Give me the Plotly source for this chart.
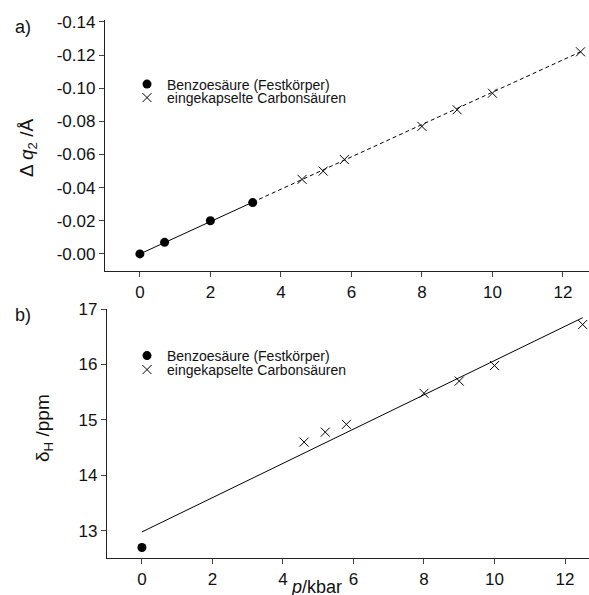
import numpy as np
import plotly.graph_objects as go

# ---- data ----
# panel a)
benz_p_a = [0.0, 0.7, 2.0, 3.2]
benz_dq = [0.000, -0.007, -0.020, -0.031]
enc_p_a = [4.6, 5.2, 5.8, 8.0, 9.0, 10.0, 12.5]
enc_dq = [-0.045, -0.050, -0.057, -0.077, -0.087, -0.097, -0.122]
fit_a_slope = -0.00976
fit_a_intercept = 0.0
fit_a_solid_x = [0.0, 3.2]
fit_a_dash_x = [3.2, 12.5]

# panel b)
benz_p_b = [0.0]
benz_dH = [12.70]
enc_p_b = [4.6, 5.2, 5.8, 8.0, 9.0, 10.0, 12.5]
enc_dH = [14.60, 14.78, 14.92, 15.48, 15.70, 15.98, 16.72]
fit_b_slope = 0.309
fit_b_intercept = 12.98
fit_b_x = [0.0, 12.5]

xticks = [0, 2, 4, 6, 8, 10, 12]
yticks_a = [-0.14, -0.12, -0.10, -0.08, -0.06, -0.04, -0.02, 0.0]
yticks_a_text = ["-0.14", "-0.12", "-0.10", "-0.08", "-0.06", "-0.04", "-0.02", "-0.00"]
yticks_b = [13, 14, 15, 16, 17]

name_benz = "Benzoesäure (Festkörper)"
name_enc = "eingekapselte Carbonsäuren"

W, H = 589, 595
FONT = "Liberation Sans, Arial, sans-serif"

def px_x(p):
    return p / W

def px_y(p):
    return 1 - p / H

fig = go.Figure()

# panel a lines
ya_solid = [fit_a_intercept + fit_a_slope * x for x in fit_a_solid_x]
ya_dash = [fit_a_intercept + fit_a_slope * x for x in fit_a_dash_x]
fig.add_trace(go.Scatter(x=fit_a_solid_x, y=ya_solid, mode="lines",
                         line=dict(color="black", width=1), showlegend=False,
                         xaxis="x", yaxis="y", cliponaxis=False))
fig.add_trace(go.Scatter(x=fit_a_dash_x, y=ya_dash, mode="lines",
                         line=dict(color="black", width=1, dash="4px,3px"), showlegend=False,
                         xaxis="x", yaxis="y", cliponaxis=False))
fig.add_trace(go.Scatter(x=benz_p_a, y=benz_dq, mode="markers", name=name_benz,
                         marker=dict(symbol="circle", size=9, color="black"),
                         xaxis="x", yaxis="y", legend="legend", cliponaxis=False))
fig.add_trace(go.Scatter(x=enc_p_a, y=enc_dq, mode="markers", name=name_enc,
                         marker=dict(symbol="x-thin-open", size=9, color="black",
                                     line=dict(color="black", width=1)),
                         xaxis="x", yaxis="y", legend="legend2", cliponaxis=False))

# panel b
yb_fit = [fit_b_intercept + fit_b_slope * x for x in fit_b_x]
fig.add_trace(go.Scatter(x=fit_b_x, y=yb_fit, mode="lines",
                         line=dict(color="black", width=1), showlegend=False,
                         xaxis="x2", yaxis="y2", cliponaxis=False))
fig.add_trace(go.Scatter(x=benz_p_b, y=benz_dH, mode="markers", name=name_benz,
                         marker=dict(symbol="circle", size=9, color="black"),
                         xaxis="x2", yaxis="y2", legend="legend3", cliponaxis=False))
fig.add_trace(go.Scatter(x=enc_p_b, y=enc_dH, mode="markers", name=name_enc,
                         marker=dict(symbol="x-thin-open", size=9, color="black",
                                     line=dict(color="black", width=1)),
                         xaxis="x2", yaxis="y2", legend="legend4", cliponaxis=False))

axis_common = dict(showgrid=False, zeroline=False, showline=True, linecolor="#222",
                   linewidth=1.3, ticks="outside", ticklen=5, tickcolor="#444",
                   tickwidth=1, automargin=False,
                   tickfont=dict(family=FONT, size=17, color="#111"))

def leg(ypx):
    return dict(x=px_x(127), y=px_y(ypx), xanchor="left", yanchor="middle",
                bgcolor="rgba(0,0,0,0)", font=dict(family=FONT, size=14, color="#111"),
                tracegroupgap=0)

fig.update_layout(
    width=W, height=H,
    margin=dict(l=0, r=0, t=0, b=0, pad=0, autoexpand=False),
    paper_bgcolor="white", plot_bgcolor="white",
    font=dict(family=FONT, color="#111"),
    xaxis=dict(domain=[px_x(105), 1], range=[-0.99, 12.74], tickvals=xticks,
               anchor="y", **axis_common),
    yaxis=dict(domain=[px_y(271), px_y(20)], range=[0.0103, -0.1412],
               tickvals=yticks_a, ticktext=yticks_a_text, anchor="x", **axis_common),
    xaxis2=dict(domain=[px_x(107), 1], range=[-0.99, 12.68], tickvals=xticks,
                anchor="y2", **axis_common),
    yaxis2=dict(domain=[px_y(558), px_y(309)], range=[12.51, 17.0],
                tickvals=yticks_b, anchor="x2", **axis_common),
    legend=leg(84.5),
    legend2=leg(98),
    legend3=leg(356),
    legend4=leg(370),
)

ann_font = dict(family=FONT, size=19, color="#111")
def ann(text, x, y, angle=0, yanchor="middle", size=19):
    fig.add_annotation(text=text, x=px_x(x), y=px_y(y), xref="paper", yref="paper",
                       xanchor="center", yanchor=yanchor, showarrow=False,
                       textangle=angle, font=dict(family=FONT, size=size, color="#111"))

ann("a)", 23, 27, size=18)
ann("b)", 23, 315, size=18)
ann("Δ <i>q</i><sub>2</sub> /Å", 28, 148, angle=-90)
ann("δ<sub>H</sub> /ppm", 44, 428, angle=-90)
ann("<i>p</i>/kbar", 316, 575, yanchor="top", size=18)

fig.write_html("out.html", post_script="document.body.style.margin='0';",
               config={"displayModeBar": False})
